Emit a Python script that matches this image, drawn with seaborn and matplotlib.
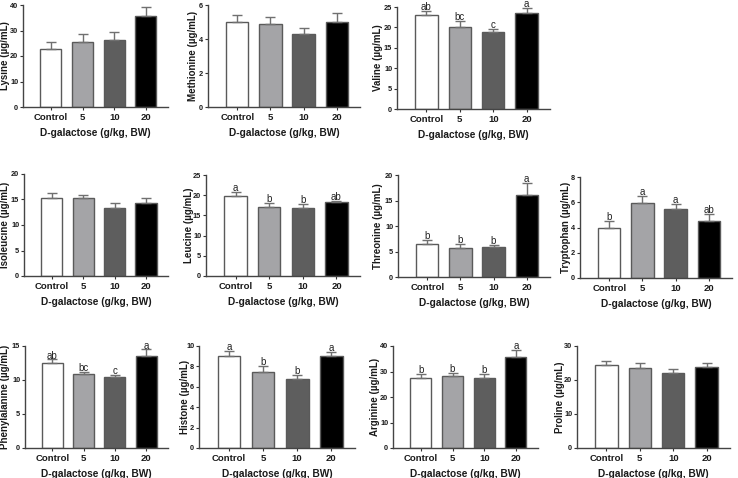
import seaborn as sns
import matplotlib.pyplot as plt
import numpy as np

# groups and bar colours
groups = ["Control", "5", "10", "20"]
bar_colors = ["#ffffff", "#a4a4a7", "#5e5e5e", "#000000"]

# mean values and SE (µg/mL)
lysine_mean = [22.7, 25.4, 26.1, 35.8]
lysine_se = [2.9, 3.4, 3.4, 3.4]
methionine_mean = [5.0, 4.86, 4.29, 4.98]
methionine_se = [0.41, 0.43, 0.36, 0.53]
valine_mean = [23.0, 20.0, 18.85, 23.5]
valine_se = [1.1, 1.6, 0.85, 1.2]
isoleucine_mean = [15.36, 15.36, 13.4, 14.4]
isoleucine_se = [0.94, 0.59, 0.85, 0.8]
leucine_mean = [19.9, 17.2, 16.9, 18.3]
leucine_se = [1.0, 0.8, 0.9, 0.3]
threonine_mean = [6.56, 5.7, 5.97, 16.07]
threonine_se = [0.74, 0.7, 0.39, 2.33]
tryptophan_mean = [3.96, 5.98, 5.49, 4.54]
tryptophan_se = [0.58, 0.5, 0.36, 0.5]
phenylalanine_mean = [12.54, 10.87, 10.38, 13.53]
phenylalanine_se = [0.49, 0.33, 0.34, 0.97]
histone_mean = [8.98, 7.5, 6.75, 9.02]
histone_se = [0.56, 0.53, 0.45, 0.36]
arginine_mean = [27.4, 28.2, 27.4, 35.5]
arginine_se = [1.5, 1.4, 1.8, 2.9]
proline_mean = [24.4, 23.6, 22.1, 23.7]
proline_se = [1.2, 1.3, 1.1, 1.2]

# significance letters (None = no letters)
valine_letters = ["ab", "bc", "c", "a"]
leucine_letters = ["a", "b", "b", "ab"]
threonine_letters = ["b", "b", "b", "a"]
tryptophan_letters = ["b", "a", "a", "ab"]
phenylalanine_letters = ["ab", "bc", "c", "a"]
histone_letters = ["a", "b", "b", "a"]
arginine_letters = ["b", "b", "b", "a"]

# name, mean, se, letters, y max, y step
panels = [
    ("Lysine", lysine_mean, lysine_se, None, 40, 10),
    ("Methionine", methionine_mean, methionine_se, None, 6, 2),
    ("Valine", valine_mean, valine_se, valine_letters, 25, 5),
    ("Isoleucine", isoleucine_mean, isoleucine_se, None, 20, 5),
    ("Leucine", leucine_mean, leucine_se, leucine_letters, 25, 5),
    ("Threonine", threonine_mean, threonine_se, threonine_letters, 20, 5),
    ("Tryptophan", tryptophan_mean, tryptophan_se, tryptophan_letters, 8, 2),
    ("Phenylalanine", phenylalanine_mean, phenylalanine_se, phenylalanine_letters, 15, 5),
    ("Histone", histone_mean, histone_se, histone_letters, 10, 2),
    ("Arginine", arginine_mean, arginine_se, arginine_letters, 40, 10),
    ("Proline", proline_mean, proline_se, None, 30, 10),
]

# layout: axes box in pixels (x0, y0, x1, y1) and y-label centre offset from the spine (px)
boxes = [(23, 5, 168, 107), (208, 5, 360, 107), (397, 7, 550, 109),
         (24, 174, 168, 276), (206, 175, 360, 276), (398, 175, 550, 277), (580, 177, 732, 278),
         (25, 346, 168, 448), (199, 346, 355, 448), (393, 346, 538, 448), (577, 346, 730, 448)]
ylab_off = [-18, -15, -19, -19, -17, -20, -14, -20, -14, -18, -17]

sns.set_style("ticks")
plt.rcParams['font.family'] = ['Liberation Sans', 'DejaVu Sans']

W, H = 738, 478
fig = plt.figure(figsize=(W / 100, H / 100), dpi=100)

for (name, mean, se, letters, ymax, ystep), box, yoff in zip(panels, boxes, ylab_off):
    x0, y0, x1, y1 = box
    ax = fig.add_axes([x0 / W, 1 - y1 / H, (x1 - x0) / W, (y1 - y0) / H])

    sns.barplot(x=groups, y=mean, hue=groups, palette=bar_colors, legend=False,
                saturation=1, width=0.67, edgecolor="#5a5a5a", linewidth=1,
                errorbar=None, ax=ax)

    # upper-only error bars
    xs = np.arange(len(groups))
    ax.errorbar(xs, mean, yerr=[np.zeros(len(se)), se], fmt='none',
                ecolor="#707070", elinewidth=1, capsize=3.6, capthick=1, zorder=1)

    if letters is not None:
        for xi, m, s, lab in zip(xs, mean, se, letters):
            ax.annotate(lab, (xi, m + s), xytext=(0, -0.8), textcoords='offset points',
                        ha='center', va='bottom', fontsize=7, color='#222222',
                        annotation_clip=False)

    ax.set_xlim(-0.88, 3.7)
    ax.set_ylim(0, ymax)
    ax.set_yticks(np.arange(0, ymax + ystep / 2, ystep))
    sns.despine(ax=ax)
    for sp in ax.spines.values():
        sp.set_color('#444444')
        sp.set_linewidth(1)

    ax.tick_params(axis='y', labelsize=5.3, length=2.5, width=0.8, pad=1, colors='#333333')
    ax.tick_params(axis='x', labelsize=6.8, length=2.5, width=0.8, pad=2, colors='#333333')
    for lab in ax.get_xticklabels() + ax.get_yticklabels():
        lab.set_fontweight('bold')
        lab.set_color('#1a1a1a')

    ax.set_ylabel(f'{name} (µg/mL)', fontsize=7.0, fontweight='bold', color='#1a1a1a')
    ax.yaxis.label.set_va('center')
    ax.yaxis.set_label_coords(yoff / (x1 - x0), 0.5)
    ax.set_xlabel('D-galactose (g/kg, BW)', fontsize=7.3, fontweight='bold', labelpad=4, color='#1a1a1a')

fig.savefig('out.png', dpi=100)
